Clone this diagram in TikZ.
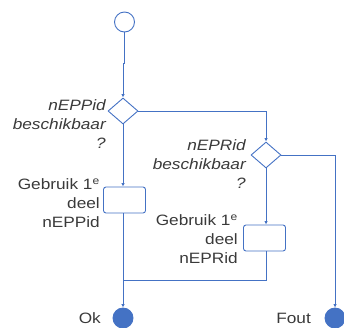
\documentclass[tikz,border=0pt]{standalone}
\usepackage{fontspec}
\setmainfont[FakeStretch=1.15]{Liberation Sans}
\usetikzlibrary{arrows.meta,shapes.geometric}
\definecolor{flow}{HTML}{4472C4}
\definecolor{txt}{HTML}{3A3A3A}
\begin{document}
\begin{tikzpicture}[x=1pt,y=-1pt,
  line/.style={draw=flow,line width=0.9pt},
  arr/.style={line,-{Latex[length=3.5pt,width=3.5pt]}},
  startc/.style={circle,draw=flow,line width=0.9pt,minimum size=20pt,inner sep=0pt},
  endc/.style={circle,draw=flow,fill=flow,line width=0.9pt,minimum size=20pt,inner sep=0pt},
  dec/.style={diamond,draw=flow,line width=0.9pt,minimum width=30pt,minimum height=26pt,inner sep=0pt,aspect=1.15},
  act/.style={rectangle,rounded corners=2.5pt,draw=flow,line width=0.9pt,minimum width=42pt,minimum height=26pt,inner sep=0pt},
  lbl/.style={align=right,anchor=east,inner sep=0pt,text=txt,font=\fontsize{15}{19}\selectfont},
  ilbl/.style={lbl,font=\fontsize{15}{19}\selectfont\itshape}]
\useasboundingbox (0,0) rectangle (344,327);
\node[startc] (s) at (124.5,22) {};
\node[dec] (d1) at (123,111) {};
\node[dec] (d2) at (266,155) {};
\node[act] (b1) at (124.5,200) {};
\node[act] (b2) at (264.5,238) {};
\node[endc] (ok) at (123,318) {};
\node[endc] (fout) at (335,318) {};
\coordinate (j) at (123,280);
\node[ilbl] (l1) at (106,124) {nEPPid\\beschikbaar\\?};
\node[ilbl] (l2) at (246,164) {nEPRid\\beschikbaar\\?};
\node[lbl] (l3) at (100,203) {Gebruik 1\textsuperscript{e}\\deel\\nEPPid};
\node[lbl] (l4) at (238,239) {Gebruik 1\textsuperscript{e}\\deel\\nEPRid};
\node[text=txt,inner sep=0pt,font=\fontsize{15}{17}\selectfont,anchor=east] (tok) at (101,318) {Ok};
\node[text=txt,inner sep=0pt,font=\fontsize{15}{17}\selectfont,anchor=east] (tf) at (311,318) {Fout};
\draw[arr] (s.south) -- (124.5,63) -- (123,63) -- (d1.north);
\draw[arr] (d1.east) -| (d2.north);
\draw[arr] (d2.east) -| (fout.north);
\draw[arr] (d1.south) -- (b1.north -| d1.south);
\draw[arr] (d2.south) -- (b2.north -| d2.south);
\draw[arr] (b1.south -| d1.south) -- (ok.north);
\draw[line] (b2.south -| d2.south) |- (j);
\end{tikzpicture}
\end{document}
